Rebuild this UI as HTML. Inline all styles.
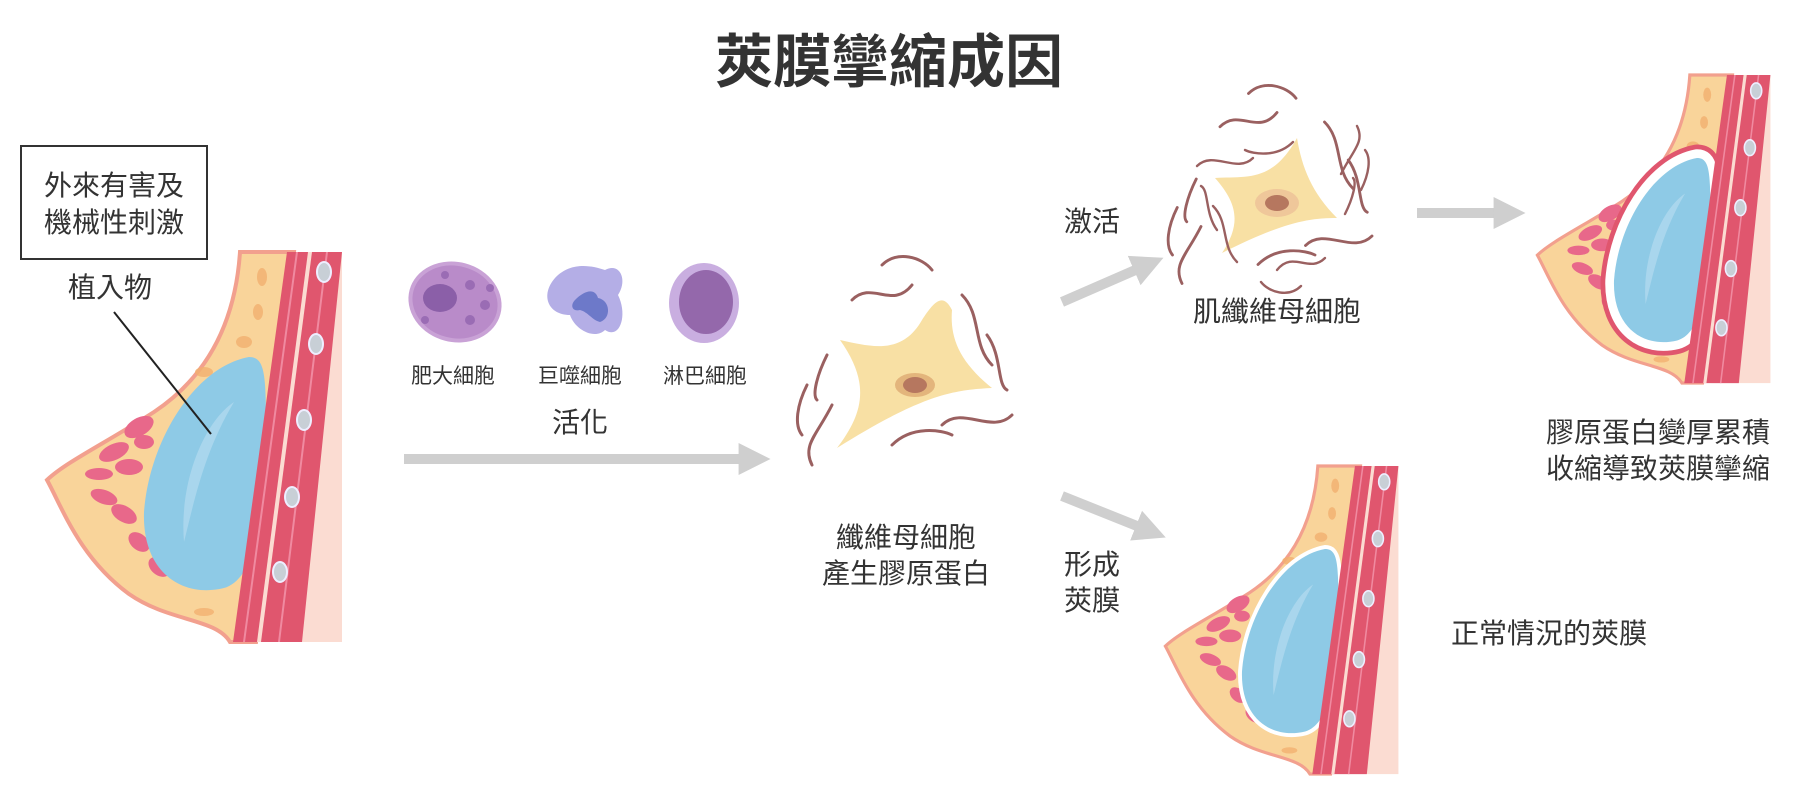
<!DOCTYPE html>
<html><head><meta charset="utf-8"><style>
html,body{margin:0;padding:0;background:#fff;}
svg{display:block;}
text{font-family:"Liberation Sans","Noto Sans CJK TC",sans-serif;fill:#333;}
</style></head><body>
<svg width="1800" height="800" viewBox="0 0 1800 800" xmlns="http://www.w3.org/2000/svg">
<defs>
<path id="impl" d="M205,105 C150,115 105,190 100,260 C98,322 140,346 180,336 C215,326 222,250 222,180 C222,122 221,105 205,105 Z"/>
<g id="base">
  <rect x="223" y="0" width="75" height="390" fill="#fbdcd2"/>
  <path d="M196,0 C192,60 170,120 110,160 C60,192 22,210 3,228 C18,255 35,305 85,342 C125,370 172,366 186,390 L212,390 L250,0 Z" fill="#f9d49a" stroke="#f2a08e" stroke-width="4"/>
  <g fill="#e8688a">
    <ellipse cx="95" cy="175" rx="16" ry="9" transform="rotate(-30 95 175)"/>
    <ellipse cx="70" cy="200" rx="16" ry="8" transform="rotate(-25 70 200)"/>
    <ellipse cx="85" cy="215" rx="14" ry="8"/>
    <ellipse cx="55" cy="222" rx="14" ry="6"/>
    <ellipse cx="60" cy="245" rx="14" ry="7" transform="rotate(20 60 245)"/>
    <ellipse cx="80" cy="262" rx="14" ry="8" transform="rotate(30 80 262)"/>
    <ellipse cx="95" cy="290" rx="12" ry="8" transform="rotate(40 95 290)"/>
    <ellipse cx="115" cy="315" rx="12" ry="8" transform="rotate(40 115 315)"/>
    <ellipse cx="100" cy="190" rx="10" ry="7"/>
  </g>
  <g fill="#f2b070" opacity="0.8">
    <ellipse cx="218" cy="25" rx="5" ry="9"/><ellipse cx="214" cy="60" rx="5" ry="8"/>
    <ellipse cx="200" cy="90" rx="8" ry="6"/><ellipse cx="160" cy="120" rx="9" ry="5"/>
    <ellipse cx="130" cy="195" rx="8" ry="12"/><ellipse cx="160" cy="360" rx="10" ry="4"/>
  </g>
</g>
<g id="muscle">
  <path d="M243,0 L298,0 L258,390 L189,390 Z" fill="#e0566e"/>
  <path d="M268,0 L264,0 L213,390 L217,390Z" fill="#fbdcd2"/>
  <path d="M252,0 L254,0 L201,390 L199,390Z M282,0 L284,0 L236,390 L234,390Z" fill="#f08aa0"/>
  <g fill="#c8cfd6" stroke="#eef" stroke-width="2">
    <ellipse cx="280" cy="20" rx="7" ry="10"/><ellipse cx="272" cy="92" rx="7" ry="10"/>
    <ellipse cx="260" cy="168" rx="7" ry="10"/><ellipse cx="248" cy="245" rx="7" ry="10"/>
    <ellipse cx="236" cy="320" rx="7" ry="10"/>
  </g>
</g>
<g id="implfill">
  <use href="#impl" fill="#8ecae6"/>
  <path d="M190,150 C160,170 135,230 140,290 C150,250 160,200 190,150Z" fill="#b5dcef" opacity="0.7"/>
</g>
<g id="squig" fill="none" stroke="#9a6060" stroke-width="3" stroke-linecap="round">
  <path d="M-60,-75 C-40,-95 -20,-65 0,-90"/>
  <path d="M-30,-110 C-15,-125 10,-118 20,-105"/>
  <path d="M50,-80 C70,-60 60,-30 80,-10"/>
  <path d="M75,-40 C90,-20 85,10 95,15"/>
  <path d="M30,50 C50,30 80,60 100,40"/>
  <path d="M-20,70 C0,50 30,55 40,60"/>
  <path d="M-80,30 C-95,60 -110,70 -100,90"/>
  <path d="M-85,-20 C-95,0 -100,20 -95,25"/>
  <path d="M-105,10 C-115,30 -118,50 -110,60"/>
</g>
<marker id="ah" viewBox="0 0 10 10" refX="2" refY="5" markerWidth="3.2" markerHeight="3.6" orient="auto"><path d="M0,0 L10,5 L0,10Z" fill="#cfcfcf"/></marker>
</defs>

<text x="889" y="82" font-size="58" font-weight="700" text-anchor="middle">莢膜攣縮成因</text>

<rect x="21" y="146" width="186" height="113" fill="none" stroke="#333" stroke-width="2"/>
<text x="114" y="195" font-size="28" text-anchor="middle">外來有害及</text>
<text x="114" y="232" font-size="28" text-anchor="middle">機械性刺激</text>
<text x="110" y="297" font-size="28" text-anchor="middle">植入物</text>

<g transform="translate(44,252)">
  <use href="#base"/><use href="#implfill"/><use href="#muscle"/>
</g>
<line x1="114" y1="312" x2="211" y2="434" stroke="#222" stroke-width="2"/>

<g>
  <ellipse cx="455" cy="302" rx="45" ry="38" fill="#b98bc9" stroke="#c9a2d6" stroke-width="4" transform="rotate(15 455 302)"/>
  <ellipse cx="440" cy="298" rx="17" ry="14" fill="#8b5fa8"/>
  <g fill="#9a6cb4"><circle cx="470" cy="285" r="5"/><circle cx="485" cy="305" r="5"/><circle cx="470" cy="320" r="5"/><circle cx="425" cy="320" r="4"/><circle cx="490" cy="288" r="4"/><circle cx="445" cy="275" r="4"/></g>
  <path d="M555,278 C570,262 590,265 605,270 C620,262 628,280 618,295 C628,315 620,340 605,330 C595,340 575,330 570,315 C548,315 540,295 555,278Z" fill="#b4aee6"/>
  <path d="M575,300 C585,290 595,288 598,298 C610,300 612,318 600,322 C592,320 588,312 580,310 C572,312 570,305 575,300Z" fill="#6d79c9"/>
  <ellipse cx="704" cy="303" rx="35" ry="40" fill="#c9aee0"/>
  <ellipse cx="706" cy="302" rx="27" ry="32" fill="#9468ab"/>
</g>
<text x="453" y="383" font-size="21" text-anchor="middle">肥大細胞</text>
<text x="580" y="383" font-size="21" text-anchor="middle">巨噬細胞</text>
<text x="705" y="383" font-size="21" text-anchor="middle">淋巴細胞</text>
<text x="580" y="432" font-size="28" text-anchor="middle">活化</text>

<line x1="404" y1="459" x2="745" y2="459" stroke="#cfcfcf" stroke-width="10" marker-end="url(#ah)"/>

<g transform="translate(912,375)">
  <path d="M-72,-35 C-40,-28 -10,-20 10,-55 C20,-70 30,-85 40,-65 C38,-40 45,-15 80,13 C40,15 10,20 -75,73 C-50,40 -40,10 -72,-35Z" fill="#f8e0a4"/>
  <ellipse cx="3" cy="10" rx="20" ry="12" fill="#e3b57c"/>
  <ellipse cx="3" cy="10" rx="12" ry="8" fill="#b6775f"/>
  <use href="#squig"/>
</g>
<text x="906" y="547" font-size="28" text-anchor="middle">纖維母細胞</text>
<text x="906" y="583" font-size="28" text-anchor="middle">產生膠原蛋白</text>

<line x1="1062" y1="302" x2="1140" y2="268" stroke="#cfcfcf" stroke-width="10" marker-end="url(#ah)"/>
<text x="1092" y="231" font-size="28" text-anchor="middle">激活</text>
<line x1="1062" y1="496" x2="1142" y2="528" stroke="#cfcfcf" stroke-width="10" marker-end="url(#ah)"/>
<text x="1092" y="574" font-size="28" text-anchor="middle">形成</text>
<text x="1092" y="610" font-size="28" text-anchor="middle">莢膜</text>

<g transform="translate(1277,198)">
  <path d="M-62,-20 C-30,-22 -5,-15 20,-60 C25,-30 35,-5 60,20 C30,20 5,25 -55,55 C-35,25 -40,5 -62,-20Z" fill="#f8e0a4"/>
  <ellipse cx="0" cy="5" rx="22" ry="14" fill="#efc79a"/>
  <ellipse cx="0" cy="5" rx="12" ry="8" fill="#b6775f"/>
  <g transform="scale(0.95)"><use href="#squig"/></g>
  <g transform="rotate(180) scale(0.8)"><use href="#squig"/></g>
</g>
<text x="1277" y="321" font-size="28" text-anchor="middle">肌纖維母細胞</text>

<line x1="1417" y1="213" x2="1500" y2="213" stroke="#cfcfcf" stroke-width="10" marker-end="url(#ah)"/>

<g transform="translate(1535,75) scale(0.79)">
  <use href="#base"/>
  <use href="#impl" fill="none" stroke="#e0566e" stroke-width="34" stroke-linejoin="round"/>
  <use href="#impl" fill="none" stroke="#fff" stroke-width="22" stroke-linejoin="round"/>
  <use href="#implfill"/>
  <use href="#muscle"/>
</g>
<text x="1658" y="442" font-size="28" text-anchor="middle">膠原蛋白變厚累積</text>
<text x="1658" y="478" font-size="28" text-anchor="middle">收縮導致莢膜攣縮</text>

<g transform="translate(1163,466) scale(0.79)">
  <use href="#base"/>
  <use href="#impl" fill="none" stroke="#fff" stroke-width="10" stroke-linejoin="round"/>
  <use href="#implfill"/>
  <use href="#muscle"/>
</g>
<text x="1549" y="643" font-size="28" text-anchor="middle">正常情況的莢膜</text>
</svg>
</body></html>
